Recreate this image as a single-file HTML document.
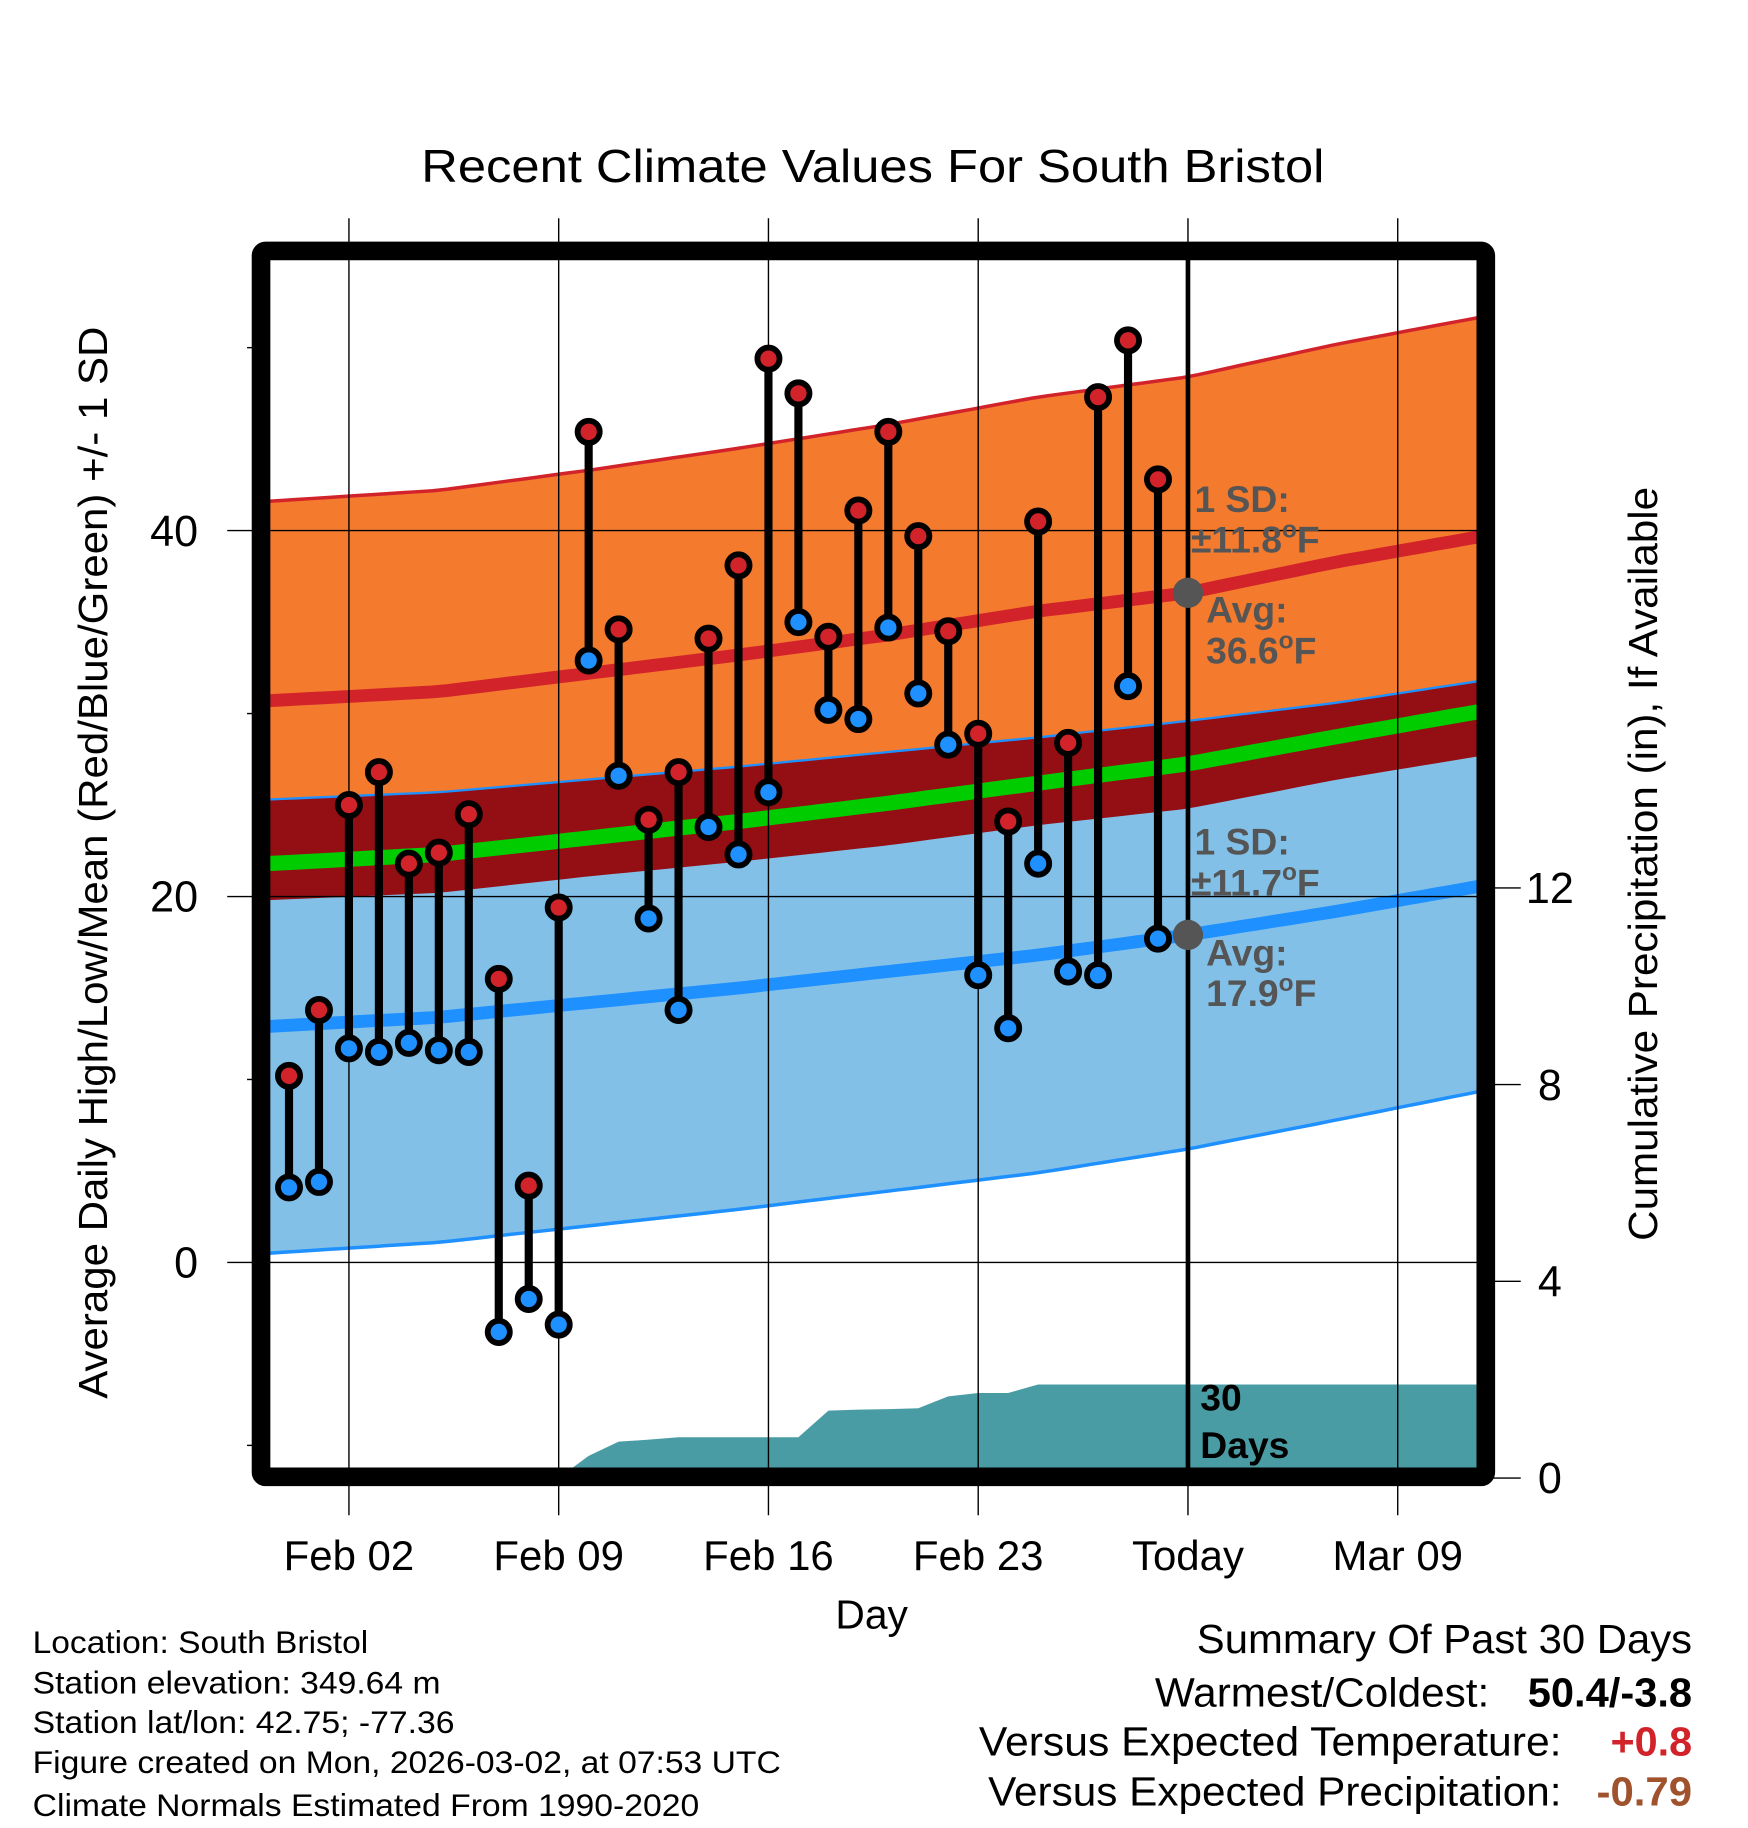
<!DOCTYPE html>
<html><head><meta charset="utf-8"><style>
html,body{margin:0;padding:0;background:#fff;}
svg{display:block;font-family:"Liberation Sans",Arial,sans-serif;}
</style></head><body>
<svg id="chart" width="1748" height="1828" viewBox="0 0 1500 1568" xmlns="http://www.w3.org/2000/svg">
<defs><clipPath id="plotclip"><rect x="231" y="222" width="1037" height="1038"/></clipPath></defs>
<text x="749" y="156" font-size="40" text-anchor="middle" textLength="775" lengthAdjust="spacingAndGlyphs">Recent Climate Values For South Bristol</text>
<g id="plot" clip-path="url(#plotclip)"></g>
<g id="grid"></g>
<g id="marks"></g>
<rect x="224" y="215" width="1051" height="1052" fill="none" stroke="#000" stroke-width="16" rx="4"/>
<g id="axes"></g>
<text transform="translate(92,740) rotate(-90)" font-size="35" text-anchor="middle" textLength="920" lengthAdjust="spacingAndGlyphs">Average Daily High/Low/Mean (Red/Blue/Green) +/- 1 SD</text>
<text transform="translate(1422,741) rotate(-90)" font-size="35" text-anchor="middle" textLength="647" lengthAdjust="spacingAndGlyphs">Cumulative Precipitation (in), If Available</text>
<text x="748" y="1397" font-size="35" text-anchor="middle">Day</text>
<g font-size="27">
<text x="28" y="1418" textLength="288" lengthAdjust="spacingAndGlyphs">Location: South Bristol</text>
<text x="28" y="1453" textLength="350" lengthAdjust="spacingAndGlyphs">Station elevation: 349.64 m</text>
<text x="28" y="1487" textLength="362" lengthAdjust="spacingAndGlyphs">Station lat/lon: 42.75; -77.36</text>
<text x="28" y="1521" textLength="642" lengthAdjust="spacingAndGlyphs">Figure created on Mon, 2026-03-02, at 07:53 UTC</text>
<text x="28" y="1558" textLength="572" lengthAdjust="spacingAndGlyphs">Climate Normals Estimated From 1990-2020</text>
</g>
<g font-size="35">
<text x="1027" y="1418" textLength="425" lengthAdjust="spacingAndGlyphs">Summary Of Past 30 Days</text>
<text x="991" y="1464" textLength="287" lengthAdjust="spacingAndGlyphs">Warmest/Coldest:</text>
<text x="1311" y="1464" font-weight="bold" textLength="141" lengthAdjust="spacingAndGlyphs">50.4/-3.8</text>
<text x="840" y="1506" textLength="500" lengthAdjust="spacingAndGlyphs">Versus Expected Temperature:</text>
<text x="1382" y="1506" font-weight="bold" fill="#d2232a" textLength="70" lengthAdjust="spacingAndGlyphs">+0.8</text>
<text x="848" y="1549" textLength="492" lengthAdjust="spacingAndGlyphs">Versus Expected Precipitation:</text>
<text x="1370" y="1549" font-weight="bold" fill="#a0522d" textLength="82" lengthAdjust="spacingAndGlyphs">-0.79</text>
</g>
</svg>
<script>
// ---- data ----
const normDays = [-0.7, 5, 10, 15, 20, 25, 30, 35, 40.2];
const hiMean  = [30.7, 31.2, 32.2, 33.2, 34.3, 35.6, 36.6, 38.3, 39.8];
const hiSD    = [10.9, 11.0, 11.1, 11.3, 11.5, 11.7, 11.8, 11.9, 12.0];
const loMean  = [12.9, 13.4, 14.2, 15.0, 15.9, 16.8, 17.9, 19.2, 20.7];
const loSD    = [12.4, 12.3, 12.2, 12.1, 12.0, 11.9, 11.7, 11.4, 11.2];
const dayHigh = [10.2,13.8,25.0,26.8,21.8,22.4,24.5,15.5,4.2,19.4,45.4,34.6,24.2,26.8,34.1,38.1,49.4,47.5,34.2,41.1,45.4,39.7,34.5,28.9,24.1,40.5,28.4,47.3,50.4,42.8];
const dayLow  = [4.1,4.4,11.7,11.5,12.0,11.6,11.5,-3.8,-2.0,-3.4,32.9,26.6,18.8,13.8,23.8,22.3,25.7,35.0,30.2,29.7,34.7,31.1,28.3,15.7,12.8,21.8,15.9,15.7,31.5,17.7];
const precip  = [0,0,0,0,0,0,0,0,0,0,0.45,0.74,0.78,0.83,0.83,0.83,0.83,0.83,1.37,1.39,1.40,1.42,1.66,1.73,1.73,1.90,1.90,1.90,1.90,1.90];
const xTickDays = [2, 9, 16, 23, 30, 37];
const xTickLabels = ["Feb 02","Feb 09","Feb 16","Feb 23","Today","Mar 09"];
const yTicks = [0, 20, 40];
const yMinor = [-10, 10, 30, 50];
const y2Ticks = [0, 4, 8, 12];
const todayDay = 30;

// ---- axes ----
const xS = d => 248 + d * 25.714;
const yS = v => 1083 - v * 15.7;
const y2S = v => 1268 - v * 42.2;
const NS = "http://www.w3.org/2000/svg";
function mk(parent, tag, attrs){ const e=document.createElementNS(NS,tag); for(const k in attrs) e.setAttribute(k,attrs[k]); parent.appendChild(e); return e; }
function interp(arr, d){
  if(d<=normDays[0]) return arr[0];
  for(let i=1;i<normDays.length;i++){ if(d<=normDays[i]){ const t=(d-normDays[i-1])/(normDays[i]-normDays[i-1]); return arr[i-1]+t*(arr[i]-arr[i-1]); } }
  return arr[arr.length-1];
}
const sampleDays=[]; for(let d=-0.7; d<=40.2; d+=0.5) sampleDays.push(d);
sampleDays.push(40.2);
const f = fn => sampleDays.map(d=>[xS(d), yS(fn(d))]);
const hiUp = f(d=>interp(hiMean,d)+interp(hiSD,d));
const hiDn = f(d=>interp(hiMean,d)-interp(hiSD,d));
const loUp = f(d=>interp(loMean,d)+interp(loSD,d));
const loDn = f(d=>interp(loMean,d)-interp(loSD,d));
const hiM = f(d=>interp(hiMean,d));
const loM = f(d=>interp(loMean,d));
const avM = f(d=>(interp(hiMean,d)+interp(loMean,d))/2);
const pts = a => a.map(p=>p[0].toFixed(1)+","+p[1].toFixed(1)).join(" ");
const band = (a,b) => pts(a)+" "+pts(b.slice().reverse());

const plot=document.getElementById('plot');
let e;
e=mk(plot,'polygon',{points:band(hiUp,hiDn),fill:'#f47a2e'});


e=mk(plot,'polygon',{points:band(loUp,loDn),fill:'#82c0e8'});


e=mk(plot,'polygon',{points:band(loUp,hiDn),fill:'#930f14'});


const lines=[[hiUp,'#d2232a',3,'high-plus-sd-line'],[hiM,'#d2232a',11,'high-mean-line'],[loUp,'#1e90ff',2,'low-plus-sd-line'],[loDn,'#1e90ff',3,'low-minus-sd-line'],[loM,'#1e90ff',11,'low-mean-line'],[avM,'#00cc00',13,'mean-line']];
lines.forEach(l=>{ e=mk(plot,'polyline',{points:pts(l[0]),fill:'none',stroke:l[1],'stroke-width':l[2]});
  
   });
// precip area
let pp=[[xS(9),1262]];
precip.forEach((v,i)=>{ if(i>=9) pp.push([xS(i),y2S(v)]); });
pp.push([1270,y2S(precip[precip.length-1])]); pp.push([1270,1270]); pp.push([xS(9),1270]);
e=mk(plot,'polygon',{points:pts(pp),fill:'#4a9ca4'});



// grid
const grid=document.getElementById('grid');
xTickDays.forEach((d,i)=>{ e=mk(grid,'line',{x1:xS(d),x2:xS(d),y1:187,y2:1300,stroke:'#000','stroke-width':1.2});
  
   });
yTicks.forEach(v=>{ e=mk(grid,'line',{x1:195,x2:1268,y1:yS(v),y2:yS(v),stroke:'#000','stroke-width':1.2});
  
   });
yMinor.forEach(v=>{ e=mk(grid,'line',{x1:212,x2:224,y1:yS(v),y2:yS(v),stroke:'#000','stroke-width':1.2});
  
   });
y2Ticks.forEach(v=>{ e=mk(grid,'line',{x1:1275,x2:1305,y1:y2S(v),y2:y2S(v),stroke:'#000','stroke-width':1.2});
  
   });
e=mk(grid,'line',{x1:xS(todayDay),x2:xS(todayDay),y1:222,y2:1262,stroke:'#000','stroke-width':4});



// marks
const marks=document.getElementById('marks');
dayHigh.forEach((h,i)=>{
  e=mk(marks,'line',{x1:xS(i),x2:xS(i),y1:yS(h),y2:yS(dayLow[i]),stroke:'#000','stroke-width':7});
  
  
});
dayHigh.forEach((h,i)=>{
  e=mk(marks,'circle',{cx:xS(i),cy:yS(h),r:9.5,fill:'#d2232a',stroke:'#000','stroke-width':5});
  
  
  e=mk(marks,'circle',{cx:xS(i),cy:yS(dayLow[i]),r:9.5,fill:'#1e90ff',stroke:'#000','stroke-width':5});
  
  
});
const tHi=interp(hiMean,todayDay), tLo=interp(loMean,todayDay);
e=mk(marks,'circle',{cx:xS(todayDay),cy:yS(tHi),r:13,fill:'#555'});


e=mk(marks,'circle',{cx:xS(todayDay),cy:yS(tLo),r:13,fill:'#555'});


function ann(x,y,txt,name,color,size){ e=mk(marks,'text',{x:x,y:y,'font-size':size||32,'font-weight':'bold',fill:color||'#555'}); e.innerHTML=txt;
  
   }
const sup='<tspan dy="-13" font-size="21">o</tspan><tspan dy="13">F</tspan>';
ann(1025,439,'1 SD:','high-sd-label');
ann(1022,474,'±'+interp(hiSD,todayDay).toFixed(1)+sup,'high-sd-value');
ann(1035,534,'Avg:','high-avg-label');
ann(1035,569,tHi.toFixed(1)+sup,'high-avg-value');
ann(1025,733,'1 SD:','low-sd-label');
ann(1022,768,'±'+interp(loSD,todayDay).toFixed(1)+sup,'low-sd-value');
ann(1035,828,'Avg:','low-avg-label');
ann(1035,863,tLo.toFixed(1)+sup,'low-avg-value');
ann(1030,1210,'30','days-count-label','#000',32);
ann(1030,1251,'Days','days-label','#000',32);

// tick labels
const axes=document.getElementById('axes');
xTickDays.forEach((d,i)=>{ e=mk(axes,'text',{x:xS(d),y:1347,'font-size':36,'text-anchor':'middle'}); e.textContent=xTickLabels[i];
  
   });
yTicks.forEach(v=>{ e=mk(axes,'text',{x:170,y:yS(v)+13,'font-size':37,'text-anchor':'end'}); e.textContent=v;
  
   });
y2Ticks.forEach(v=>{ e=mk(axes,'text',{x:1330,y:y2S(v)+13,'font-size':37,'text-anchor':'middle'}); e.textContent=v;
  
   });
</script>
</body></html>
